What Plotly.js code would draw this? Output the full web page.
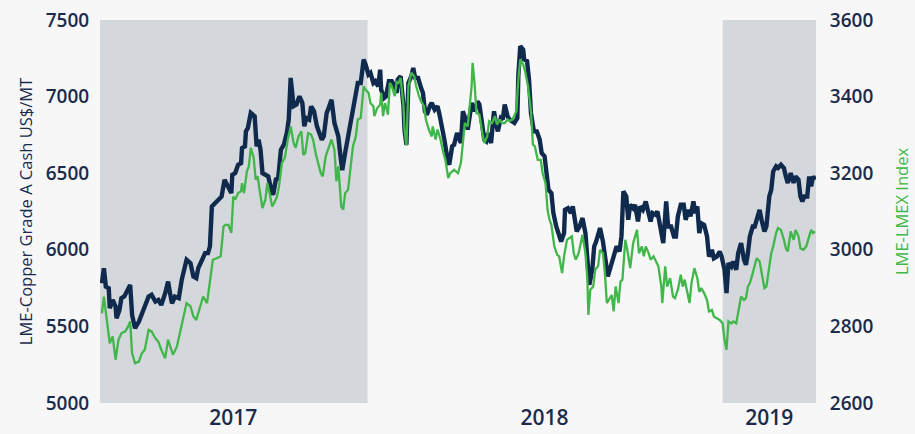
<!DOCTYPE html>
<html>
<head>
<meta charset="utf-8">
<script src="https://cdn.plot.ly/plotly-3.0.1.min.js"></script>
<style>html,body{margin:0;padding:0;background:#f7f7f7;}#chart{width:915px;height:434px;}</style>
</head>
<body>
<div id="chart"></div>
<script>
// Days counted from 1 April 2017
const startDate = '2017-04-01';
const copperDays = [2,4,6,9,10,13,16,17,20,22,25,28,31,33,36,40,43,46,50,53,57,60,63,67,70,72,74,77,81,84,87,89,93,96,99,101,105,108,111,113,115,118,122,125,128,131,135,136,139,142,145,146,149,150,152,155,159,161,163,165,167,170,173,176,178,181,183,186,189,192,194,196,199,202,205,208,210,212,215,217,220,223,225,228,230,233,235,238,241,243,245,247,249,252,255,258,260,263,265,268,271,273,276,278,281,283,286,288,289,292,294,297,300,302,305,306,309,312,313,315,317,320,322,324,327,330,332,334,336,339,341,344,347,349,351,354,357,359,362,364,367,369,371,373,376,378,380,382,385,388,390,392,395,397,399,402,405,407,409,412,414,416,419,421,423,426,429,430,432,435,436,439,441,443,446,449,452,454,457,459,461,464,466,469,471,474,477,478,481,484,486,488,490,493,496,499,501,503,506,508,510,512,514,517,519,522,525,527,529,531,534,536,538,541,543,545,548,550,553,555,558,561,563,566,568,571,573,575,577,579,582,584,587,590,592,594,597,600,602,605,607,610,612,614,616,618,621,624,626,629,631,634,637,639,642,644,646,649,651,654,656,659,662,664,666,668,671,673,675,678,680,683,685,688,690,692,695,697,700,703,705,707,710,713,715,718,720,722,724,727,729,731,733,735];
const copperCash = [5782,5880,5760,5749,5619,5673,5630,5553,5608,5684,5695,5728,5771,5575,5488,5532,5586,5630,5695,5706,5662,5673,5640,5717,5793,5717,5651,5695,5684,5804,5869,5935,5913,5826,5815,5880,5935,5978,5978,6022,6283,6305,6327,6348,6457,6414,6370,6490,6501,6555,6566,6664,6675,6773,6795,6893,6871,6675,6719,6654,6501,6490,6479,6392,6359,6468,6457,6654,6686,6762,6850,7122,6937,6948,7002,6959,6806,6860,6850,6937,6904,6806,6762,6719,6741,6893,6926,6980,6828,6784,6740,6620,6520,6632,6741,6871,6915,7024,7089,7089,7242,7209,7144,7155,7089,7100,7067,7176,7046,6991,7002,7100,7100,7078,7024,7111,7133,6937,6784,6686,7089,7133,7187,7122,7122,7057,7024,6904,6882,6937,6959,6915,6937,6882,6828,6719,6599,6555,6675,6686,6762,6719,6697,6904,6850,6784,6882,6959,6904,6969,6948,6871,6719,6708,6762,6697,6904,6828,6773,6860,6850,6948,6871,6850,6839,6828,6860,7133,7329,7307,7242,7231,7111,6893,6773,6773,6719,6632,6610,6501,6392,6370,6240,6152,6120,6054,6109,6261,6272,6240,6283,6185,6120,6152,6207,6109,5956,5771,5869,6022,6054,6109,6142,6054,5978,5826,5891,5935,5978,6022,5989,6087,6381,6348,6196,6294,6272,6294,6185,6283,6261,6316,6261,6185,6240,6229,6251,6174,6120,6043,6316,6152,6152,6087,6087,6218,6294,6294,6196,6261,6218,6316,6240,6283,6109,6174,6163,6087,5956,6000,5945,5956,5989,5956,5869,5717,5913,5891,5924,5869,5978,6044,5935,5902,5978,6087,6152,6152,6196,6261,6196,6120,6152,6348,6392,6512,6545,6534,6555,6534,6479,6436,6501,6436,6479,6457,6348,6316,6348,6348,6479,6414,6479,6457];
const lmexDays = [2,4,7,10,13,16,19,22,26,29,31,33,36,40,43,46,50,53,57,60,63,67,70,72,75,79,82,86,89,93,96,99,103,106,110,113,116,120,124,127,129,132,135,137,139,142,145,146,148,151,153,155,158,160,162,164,167,170,172,175,177,179,182,184,187,190,193,196,199,201,204,207,209,211,214,217,219,222,224,227,229,232,235,238,241,243,245,248,250,252,255,258,260,263,265,268,271,273,276,278,281,282,285,288,289,291,293,296,298,300,303,305,307,309,312,313,315,317,320,323,325,328,330,333,335,338,341,342,345,347,350,353,355,358,360,364,368,371,373,375,378,380,382,383,385,387,390,393,395,398,400,403,406,408,411,413,416,419,421,424,428,430,432,435,437,440,443,445,447,450,453,455,458,460,462,464,467,470,472,475,477,480,483,485,487,489,492,494,496,499,501,502,504,507,509,512,514,517,519,521,524,526,528,530,533,535,537,540,542,545,548,550,552,554,557,559,561,564,566,569,572,574,577,578,581,583,586,589,591,594,597,599,601,604,606,608,611,614,616,618,621,624,626,629,631,634,637,640,642,644,646,649,651,654,656,659,662,664,666,668,671,673,675,678,680,683,685,688,690,692,695,697,700,703,705,707,710,713,715,718,720,723,726,729,731,733,735];
const lmexIndex = [2834,2878,2817,2756,2774,2713,2765,2782,2787,2800,2813,2730,2704,2708,2730,2739,2791,2787,2769,2760,2739,2717,2765,2747,2726,2747,2782,2821,2861,2852,2826,2817,2852,2878,2861,2913,2974,2978,2983,3061,3065,3065,3044,3139,3131,3148,3153,3174,3148,3205,3218,3266,3240,3183,3192,3157,3109,3131,3174,3139,3113,3122,3139,3166,3227,3240,3288,3322,3279,3266,3296,3309,3248,3253,3305,3301,3288,3248,3227,3200,3192,3244,3266,3288,3261,3179,3218,3113,3105,3148,3157,3218,3270,3296,3340,3344,3427,3418,3410,3383,3375,3349,3370,3379,3410,3349,3383,3353,3436,3427,3401,3440,3436,3449,3375,3314,3272,3427,3462,3453,3427,3401,3388,3375,3340,3314,3296,3322,3288,3314,3288,3253,3235,3187,3200,3209,3200,3227,3288,3331,3322,3383,3427,3488,3436,3357,3353,3305,3279,3296,3336,3331,3349,3327,3340,3331,3331,3340,3336,3340,3362,3444,3497,3484,3466,3427,3362,3275,3270,3235,3235,3200,3174,3105,3079,3065,3009,2987,2983,2939,2983,3026,3031,3035,2991,2974,2991,3017,3039,2991,2922,2830,2896,2904,2948,2957,3000,2991,2939,2861,2874,2882,2839,2904,2861,2917,2922,3026,3000,2952,3017,3035,3052,2991,3009,2983,3009,2991,2974,2983,2965,2957,2904,2861,2957,2904,2926,2878,2874,2896,2935,2904,2922,2887,2861,2913,2952,2926,2890,2900,2887,2869,2839,2843,2826,2821,2817,2808,2765,2739,2813,2808,2813,2808,2834,2878,2869,2874,2904,2913,2939,2957,2978,2970,2939,2900,2904,2957,2991,3009,3044,3057,3052,3026,3004,2996,3048,3026,3052,3035,3004,3000,3009,3035,3052,3044,3048];
const yearLabels = ['2017', '2018', '2019'];
const yearCentres = ['2017-08-16', '2018-07-02', '2019-02-18'];
const shadedPeriods = [['2017-04-01', '2018-01-01'], ['2019-01-01', '2019-04-07']];
const leftTicks = [5000, 5500, 6000, 6500, 7000, 7500];
const rightTicks = [2600, 2800, 3000, 3200, 3400, 3600];

const t0 = Date.UTC(2017, 3, 1);
const toDate = d => new Date(t0 + d * 86400000).toISOString().slice(0, 10);

const navy = '#102a4e';
const green = '#41b649';
const textNavy = '#1a2b4c';

const traces = [
  {x: lmexDays.map(toDate), y: lmexIndex, yaxis: 'y2', type: 'scatter', mode: 'lines',
   name: 'LME-LMEX Index', line: {color: green, width: 2.3}},
  {x: copperDays.map(toDate), y: copperCash, yaxis: 'y', type: 'scatter', mode: 'lines',
   name: 'LME-Copper Grade A Cash', line: {color: navy, width: 4.4}}
];

const layout = {
  width: 915, height: 434,
  margin: {l: 100, r: 99, t: 20, b: 31},
  paper_bgcolor: '#f7f7f7', plot_bgcolor: '#f7f7f7',
  showlegend: false,
  font: {family: 'Open Sans, sans-serif', color: textNavy},
  xaxis: {type: 'date', range: ['2017-04-01', '2019-04-07'], showgrid: false, zeroline: false,
          showline: false, tickmode: 'array', tickvals: yearCentres, ticktext: yearLabels,
          ticks: '', tickfont: {size: 21, color: textNavy, weight: 600}},
  yaxis: {range: [5000, 7500], tickmode: 'array', tickvals: leftTicks, showgrid: false, zeroline: false,
          showline: false, ticks: 'outside', ticklen: 6, tickcolor: 'rgba(0,0,0,0)',
          tickfont: {size: 19, color: textNavy, weight: 600},
          title: {text: 'LME-Copper Grade A Cash US$/MT', font: {size: 16.5, color: textNavy}, standoff: 8}},
  yaxis2: {range: [2600, 3600], overlaying: 'y', side: 'right', tickmode: 'array', tickvals: rightTicks,
           showgrid: false, zeroline: false, showline: false, ticks: 'outside', ticklen: 9,
           tickcolor: 'rgba(0,0,0,0)', tickfont: {size: 19, color: textNavy, weight: 600},
           title: {text: 'LME-LMEX Index', font: {size: 16.5, color: green}, standoff: 24}},
  shapes: shadedPeriods.map(p => ({type: 'rect', xref: 'x', yref: 'paper', x0: p[0], x1: p[1],
          y0: 0, y1: 1, fillcolor: '#d4d7dc', line: {width: 0}, layer: 'below'}))
};

Plotly.newPlot('chart', traces, layout, {displayModeBar: false, staticPlot: true});
</script>
</body>
</html>
